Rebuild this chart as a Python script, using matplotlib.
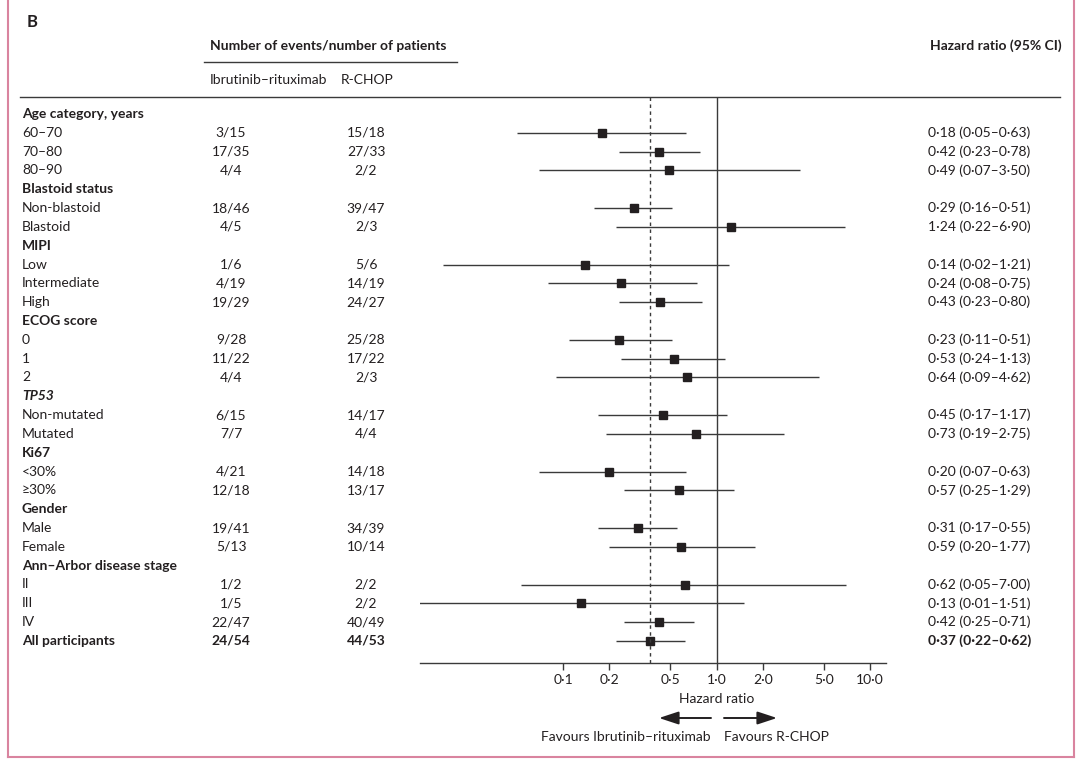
import numpy as np
import matplotlib
matplotlib.use("Agg")
import matplotlib.pyplot as plt
from matplotlib.transforms import blended_transform_factory
from matplotlib.lines import Line2D

plt.rcParams['font.family'] = ['Lato', 'DejaVu Sans']
plt.rcParams['font.size'] = 10

# data
labels = ["Age category, years", "60–70", "70–80", "80–90",
          "Blastoid status", "Non-blastoid", "Blastoid",
          "MIPI", "Low", "Intermediate", "High",
          "ECOG score", "0", "1", "2",
          "TP53", "Non-mutated", "Mutated",
          "Ki67", "<30%", "≥30%",
          "Gender", "Male", "Female",
          "Ann–Arbor disease stage", "II", "III", "IV",
          "All participants"]
is_header = [1, 0, 0, 0, 1, 0, 0, 1, 0, 0, 0, 1, 0, 0, 0, 1, 0, 0,
             1, 0, 0, 1, 0, 0, 1, 0, 0, 0, 0]
ibr = ["", "3/15", "17/35", "4/4", "", "18/46", "4/5", "", "1/6", "4/19", "19/29",
       "", "9/28", "11/22", "4/4", "", "6/15", "7/7", "", "4/21", "12/18",
       "", "19/41", "5/13", "", "1/2", "1/5", "22/47", "24/54"]
rchop = ["", "15/18", "27/33", "2/2", "", "39/47", "2/3", "", "5/6", "14/19", "24/27",
         "", "25/28", "17/22", "2/3", "", "14/17", "4/4", "", "14/18", "13/17",
         "", "34/39", "10/14", "", "2/2", "2/2", "40/49", "44/53"]
# plotted positions
hr = [np.nan, 0.18, 0.42, 0.49, np.nan, 0.29, 1.24, np.nan, 0.14, 0.24, 0.43,
      np.nan, 0.23, 0.53, 0.64, np.nan, 0.45, 0.73, np.nan, 0.20, 0.57,
      np.nan, 0.31, 0.59, np.nan, 0.62, 0.13, 0.42, 0.37]
lo = [np.nan, 0.05, 0.23, 0.07, np.nan, 0.16, 0.22, np.nan, 0.0165, 0.08, 0.23,
      np.nan, 0.11, 0.24, 0.09, np.nan, 0.17, 0.19, np.nan, 0.07, 0.25,
      np.nan, 0.17, 0.20, np.nan, 0.053, 0.01, 0.25, 0.22]
hi = [np.nan, 0.63, 0.78, 3.50, np.nan, 0.51, 6.90, np.nan, 1.21, 0.75, 0.80,
      np.nan, 0.51, 1.13, 4.62, np.nan, 1.17, 2.75, np.nan, 0.63, 1.29,
      np.nan, 0.55, 1.77, np.nan, 7.00, 1.51, 0.71, 0.62]
# printed estimates
hr_text = ["", "0·18 (0·05–0·63)", "0·42 (0·23–0·78)", "0·49 (0·07–3·50)",
           "", "0·29 (0·16–0·51)", "1·24 (0·22–6·90)",
           "", "0·14 (0·02–1·21)", "0·24 (0·08–0·75)", "0·43 (0·23–0·80)",
           "", "0·23 (0·11–0·51)", "0·53 (0·24–1·13)", "0·64 (0·09–4·62)",
           "", "0·45 (0·17–1·17)", "0·73 (0·19–2·75)",
           "", "0·20 (0·07–0·63)", "0·57 (0·25–1·29)",
           "", "0·31 (0·17–0·55)", "0·59 (0·20–1·77)",
           "", "0·62 (0·05–7·00)", "0·13 (0·01–1·51)", "0·42 (0·25–0·71)",
           "0·37 (0·22–0·62)"]
overall_hr = 0.37
ticks = [0.1, 0.2, 0.5, 1.0, 2.0, 5.0, 10.0]
tick_labels = ["0·1", "0·2", "0·5", "1·0", "2·0", "5·0", "10·0"]

W, H = 1080, 764
txt = '#231f20'
fig = plt.figure(figsize=(W / 100, H / 100), dpi=100)

def fx(x):
    return x / W

def fy(y):
    return 1 - y / H

# forest axes: x 420..886 px, y 97..663 px
ax = fig.add_axes([fx(420), fy(663), fx(886) - fx(420), fy(97) - fy(663)])
ax.set_xscale('log')
ax.set_xlim(0.0117, 12.7)
row0, pitch = 114, 18.82
ax.set_ylim((663 - row0) / pitch, -(row0 - 97) / pitch)

n = len(labels)
for i in range(n):
    if np.isnan(hr[i]):
        continue
    ax.plot([lo[i], hi[i]], [i, i], color='#3a3a3a', lw=1.0, solid_capstyle='butt')
    ax.plot(hr[i], i, marker='s', ms=5.3, color=txt, mec=txt)

ax.axvline(1.0, color='#3a3a3a', lw=1.0)
ax.axvline(overall_hr, color='#3a3a3a', lw=1.0, ls=(0, (2.5, 2.5)))

for s in ['left', 'right', 'top']:
    ax.spines[s].set_visible(False)
ax.spines['bottom'].set_color('#3a3a3a')
ax.spines['bottom'].set_linewidth(1.0)
ax.set_yticks([])
ax.set_xticks(ticks)
ax.set_xticklabels(tick_labels)
ax.xaxis.set_minor_locator(matplotlib.ticker.NullLocator())
ax.tick_params(axis='x', direction='out', length=5, width=1.0, color='#3a3a3a',
               labelcolor=txt, pad=3, labelsize=10)

# text columns
tr = blended_transform_factory(fig.transFigure, ax.transData)
for i in range(n):
    bold = is_header[i] or i == n - 1
    fw = 'bold' if bold else 'normal'
    style = 'italic' if labels[i] == "TP53" else 'normal'
    ax.text(fx(22), i, labels[i], transform=tr, ha='left', va='center',
            fontweight=fw, fontstyle=style, color=txt, clip_on=False)
    if ibr[i]:
        ax.text(fx(231), i, ibr[i], transform=tr, ha='center', va='center',
                fontweight=fw, color=txt, clip_on=False)
        ax.text(fx(366), i, rchop[i], transform=tr, ha='center', va='center',
                fontweight=fw, color=txt, clip_on=False)
    if hr_text[i]:
        ax.text(fx(928), i, hr_text[i], transform=tr, ha='left', va='center',
                fontweight=fw, color=txt, clip_on=False)

# header
fig.text(fx(27), fy(22), "B", fontweight='bold', fontsize=12, color=txt, va='center')
fig.text(fx(210), fy(46), "Number of events/number of patients", fontweight='bold',
         color=txt, va='center')
fig.text(fx(1062), fy(46), "Hazard ratio (95% CI)", fontweight='bold', color=txt,
         va='center', ha='right')
fig.add_artist(Line2D([fx(204), fx(457)], [fy(62), fy(62)], color='#3a3a3a', lw=1.0))
fig.text(fx(210), fy(80), "Ibrutinib–rituximab", color=txt, va='center')
fig.text(fx(341), fy(80), "R-CHOP", color=txt, va='center')
fig.add_artist(Line2D([fx(20), fx(1060)], [fy(97), fy(97)], color='#3a3a3a', lw=1.0))

# axis title and arrows
fig.text(fx(717), fy(699), "Hazard ratio", color=txt, ha='center', va='center')
arrow_kw = dict(arrowstyle='-|>,head_length=0.85,head_width=0.28', color=txt, lw=1.4,
                mutation_scale=14, shrinkA=0, shrinkB=0)
fig.add_artist(plt.Annotation("", xy=(fx(659), fy(718)), xytext=(fx(711), fy(718)),
                              xycoords='figure fraction', textcoords='figure fraction',
                              arrowprops=arrow_kw))
fig.add_artist(plt.Annotation("", xy=(fx(777), fy(718)), xytext=(fx(724), fy(718)),
                              xycoords='figure fraction', textcoords='figure fraction',
                              arrowprops=arrow_kw))
fig.text(fx(711), fy(737), "Favours Ibrutinib–rituximab", color=txt, ha='right', va='center')
fig.text(fx(724), fy(737), "Favours R-CHOP", color=txt, ha='left', va='center')

# pink frame
pink = '#d9849f'
fig.add_artist(Line2D([fx(8), fx(8)], [fy(0), fy(757)], color=pink, lw=1.5))
fig.add_artist(Line2D([fx(8), fx(1074)], [fy(757), fy(757)], color=pink, lw=1.5))
fig.add_artist(Line2D([fx(1074), fx(1074)], [fy(0), fy(757)], color=pink, lw=1.5))

fig.savefig("out.png", dpi=100)
